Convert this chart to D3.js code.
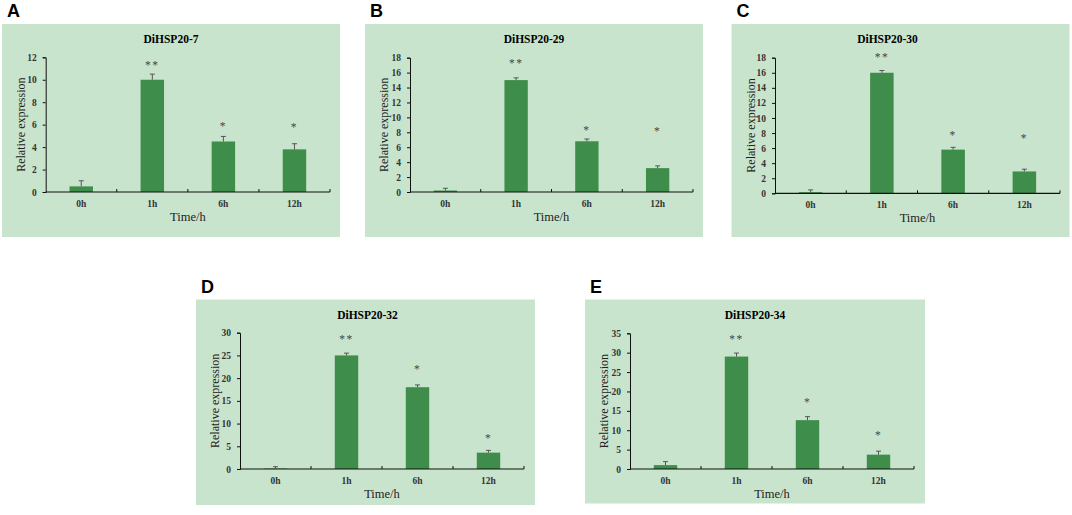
<!DOCTYPE html>
<html>
<head>
<meta charset="utf-8">
<script src="https://cdn.jsdelivr.net/npm/d3@7"></script>
<style>
  body { margin: 0; background: #fff; }
  svg { display: block; }
</style>
</head>
<body>
<script>
// data
const panelLetters = ["A", "B", "C", "D", "E"];
const genes = ["DiHSP20-7", "DiHSP20-29", "DiHSP20-30", "DiHSP20-32", "DiHSP20-34"];
const times = ["0h", "1h", "6h", "12h"];
const means = [
  [0.5, 10.0, 4.5, 3.8],
  [0.2, 15.0, 6.8, 3.2],
  [0.15, 16.0, 5.8, 2.9],
  [0.1, 25.0, 18.0, 3.6],
  [1.0, 29.0, 12.6, 3.7]
];
const errs = [
  [0.5, 0.5, 0.45, 0.5],
  [0.3, 0.3, 0.3, 0.3],
  [0.3, 0.3, 0.3, 0.3],
  [0.4, 0.5, 0.5, 0.5],
  [0.9, 0.9, 0.9, 0.9]
];
const stars = ["", "**", "*", "*"];
const starAt = [
  [0, 11.5, 6.1, 6.0],
  [0, 17.5, 8.6, 8.5],
  [0, 18.3, 8.0, 7.6],
  [0, 29.0, 22.5, 7.3],
  [0, 34.0, 17.8, 9.2]
];
const yMax = [12, 18, 18, 30, 35];
const yStep = [2, 2, 2, 5, 5];

// where each panel sits on the page (td = title shift)
const boxes = [
  {x: 2, y: 24, w: 338, h: 213, l: 45.7, r: 330, t: 57.3, b: 192, td: 0},
  {x: 365, y: 24, w: 338, h: 213, l: 410, r: 693, t: 57.7, b: 192, td: 0},
  {x: 731.5, y: 24, w: 338, h: 213, l: 775, r: 1060, t: 57.7, b: 193.3, td: -13},
  {x: 196, y: 299.5, w: 339, h: 205.5, l: 240, r: 524, t: 332.7, b: 469, td: 2},
  {x: 585, y: 299.5, w: 340, h: 204, l: 630, r: 914, t: 333.3, b: 469, td: 0}
];

const svg = d3.select("body").append("svg").attr("width", 1072).attr("height", 515);
const serif = "'Liberation Serif', 'Times New Roman', serif";

boxes.forEach(function (bx, p) {
  svg.append("text")
    .attr("x", bx.x + 5).attr("y", bx.y - 7)
    .attr("font-family", "'Liberation Sans', Arial, sans-serif")
    .attr("font-weight", "bold").attr("font-size", 18)
    .text(panelLetters[p]);

  svg.append("rect")
    .attr("x", bx.x).attr("y", bx.y).attr("width", bx.w).attr("height", bx.h)
    .attr("fill", "#c9e4cd");

  const x = d3.scaleBand().domain(times).range([bx.l, bx.r]).paddingInner(0).paddingOuter(0);
  const y = d3.scaleLinear().domain([0, yMax[p]]).range([bx.b, bx.t]);
  const g = svg.append("g");
  const bw = x.bandwidth() * 0.33;

  g.selectAll("rect.bar").data(means[p]).enter()
    .append("rect").attr("class", "bar")
    .attr("x", (d, i) => x(times[i]) + x.bandwidth() / 2 - bw / 2)
    .attr("width", bw)
    .attr("y", d => y(d))
    .attr("height", d => bx.b - y(d))
    .attr("fill", "#3f8d4a");

  // error bars, upper half only
  const eb = g.selectAll("g.err").data(means[p]).enter().append("g").attr("class", "err");
  eb.append("line")
    .attr("x1", (d, i) => x(times[i]) + x.bandwidth() / 2)
    .attr("x2", (d, i) => x(times[i]) + x.bandwidth() / 2)
    .attr("y1", d => y(d))
    .attr("y2", (d, i) => y(d + errs[p][i]))
    .attr("stroke", "#555").attr("stroke-width", 1);
  eb.append("line")
    .attr("x1", (d, i) => x(times[i]) + x.bandwidth() / 2 - 2.5)
    .attr("x2", (d, i) => x(times[i]) + x.bandwidth() / 2 + 2.5)
    .attr("y1", (d, i) => y(d + errs[p][i]))
    .attr("y2", (d, i) => y(d + errs[p][i]))
    .attr("stroke", "#555").attr("stroke-width", 1);

  g.selectAll("text.star").data(stars).enter()
    .append("text").attr("class", "star")
    .attr("x", (d, i) => x(times[i]) + x.bandwidth() / 2)
    .attr("y", (d, i) => y(starAt[p][i]) + 6)
    .attr("text-anchor", "middle")
    .attr("font-family", serif).attr("font-size", 11.5).attr("fill", "#444")
    .attr("letter-spacing", 1.5)
    .text(d => d);

  // y axis
  const ya = g.append("g").attr("transform", "translate(" + bx.l + ",0)")
    .call(d3.axisLeft(y).tickValues(d3.range(0, yMax[p] + 0.01, yStep[p])).tickSize(3).tickPadding(6));
  ya.select(".domain").attr("stroke", "#111");
  ya.selectAll(".tick line").attr("stroke", "#111");
  ya.selectAll("text").attr("font-family", serif).attr("font-size", 9.5)
    .attr("font-weight", "bold").attr("fill", "#333");

  // x axis with ticks between categories
  g.append("line").attr("x1", bx.l).attr("x2", bx.r).attr("y1", bx.b).attr("y2", bx.b)
    .attr("stroke", "#111").attr("stroke-width", 1.2);
  g.selectAll("line.ct").data(times.slice(1).concat(["end"])).enter()
    .append("line").attr("class", "ct")
    .attr("x1", d => d === "end" ? bx.r : x(d))
    .attr("x2", d => d === "end" ? bx.r : x(d))
    .attr("y1", bx.b).attr("y2", bx.b - 3)
    .attr("stroke", "#111");
  g.selectAll("text.cat").data(times).enter()
    .append("text").attr("class", "cat")
    .attr("x", d => x(d) + x.bandwidth() / 2)
    .attr("y", bx.b + 15)
    .attr("text-anchor", "middle")
    .attr("font-family", serif).attr("font-size", 9.5).attr("font-weight", "bold").attr("fill", "#333")
    .text(d => d);

  svg.append("text")
    .attr("x", bx.x + bx.w / 2 + bx.td).attr("y", bx.y + 19)
    .attr("text-anchor", "middle")
    .attr("font-family", serif).attr("font-weight", "bold").attr("font-size", 11.5)
    .text(genes[p]);

  svg.append("text")
    .attr("x", (bx.l + bx.r) / 2).attr("y", bx.b + 29)
    .attr("text-anchor", "middle")
    .attr("font-family", serif).attr("font-size", 12.5).attr("fill", "#222")
    .text("Time/h");

  svg.append("text")
    .attr("transform", "translate(" + (bx.x + 23) + "," + ((bx.t + bx.b) / 2) + ") rotate(-90)")
    .attr("text-anchor", "middle")
    .attr("font-family", serif).attr("font-size", 12).attr("fill", "#222")
    .text("Relative expression");
});
</script>
</body>
</html>
